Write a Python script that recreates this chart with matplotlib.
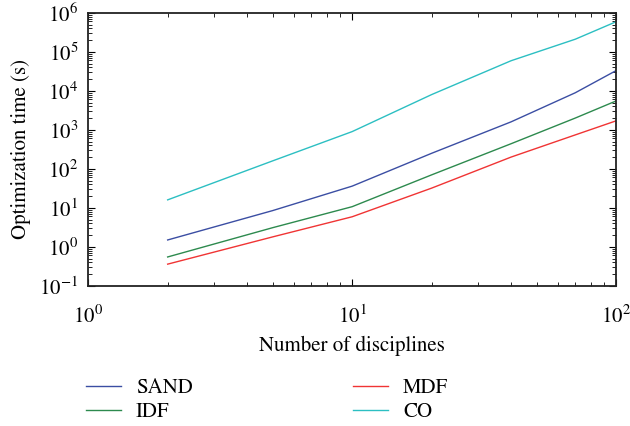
import matplotlib
matplotlib.use("Agg")
import matplotlib.pyplot as plt
from matplotlib.ticker import LogLocator, NullFormatter

plt.rcParams['font.family'] = ['STIXGeneral', 'DejaVu Serif']
plt.rcParams['mathtext.fontset'] = 'stix'

# number of disciplines and optimization time (s)
disciplines = [2, 5, 10, 20, 40, 70, 100]
sand = [1.5, 8.5, 36, 250, 1600, 8900, 33000]
idf = [0.55, 3.1, 10.7, 70, 440, 2000, 5500]
mdf = [0.36, 1.8, 5.9, 32, 200, 740, 1700]
co = [16, 160, 900, 8000, 59000, 210000, 590000]

series = [("SAND", sand, '#3b4ea3'),
          ("IDF", idf, '#2d8a4e'),
          ("MDF", mdf, '#f03434'),
          ("CO", co, '#2cbfc2')]

fig = plt.figure(figsize=(6.3, 4.26), dpi=100)
ax = fig.add_axes([0.14, 0.329, 0.838, 0.641])

for name, vals, col in series:
    ax.plot(disciplines, vals, color=col, lw=1.0, label=name)

ax.set_xscale('log')
ax.set_yscale('log')
ax.set_xlim(1, 100)
ax.set_ylim(0.1, 1e6)
ax.yaxis.set_major_locator(LogLocator(base=10, numticks=10))
ax.yaxis.set_minor_locator(LogLocator(base=10, subs=range(2, 10), numticks=20))
ax.yaxis.set_minor_formatter(NullFormatter())

ax.tick_params(which='both', direction='in', top=True, right=True, labelsize=15)
ax.tick_params(axis='x', which='major', length=5, pad=14)
ax.tick_params(axis='y', which='major', length=5, pad=7)
ax.tick_params(which='minor', length=3)
for s in ax.spines.values():
    s.set_linewidth(1.3)
    s.set_color('#222222')

ax.set_xlabel("Number of disciplines", fontsize=15, labelpad=6)
ax.set_ylabel("Optimization time (s)", fontsize=15, labelpad=6)

# legend order: SAND, IDF in first column, MDF, CO in second
ax.legend(loc='upper left', bbox_to_anchor=(-0.04, -0.27), ncol=2, frameon=False,
          fontsize=15, handlelength=1.7, handletextpad=0.7,
          columnspacing=7.7, labelspacing=0.2)

fig.savefig("out.png", dpi=100)
